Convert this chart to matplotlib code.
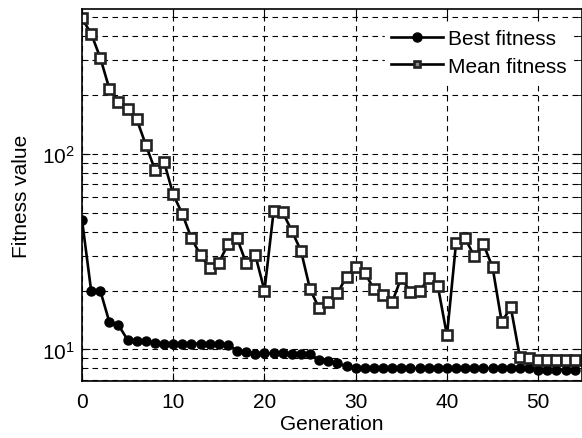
import matplotlib
matplotlib.use("Agg")
import matplotlib.pyplot as plt
import numpy as np
from matplotlib.ticker import LogLocator, NullFormatter, FixedLocator

plt.rcParams['font.family'] = ['Liberation Sans', 'DejaVu Sans']
plt.rcParams['mathtext.fontset'] = 'custom'
plt.rcParams['mathtext.rm'] = 'Liberation Sans'
plt.rcParams['mathtext.it'] = 'Liberation Sans:italic'

generation = list(range(55))

best_fitness = [46, 20, 20, 13.8, 13.3, 11.2, 11.1, 11.0, 10.8, 10.7,
                10.7, 10.7, 10.7, 10.7, 10.7, 10.7, 10.6, 9.85, 9.7, 9.5,
                9.55, 9.55, 9.55, 9.5, 9.5, 9.5, 8.8, 8.7, 8.5, 8.2,
                8.0, 8.0, 8.0, 8.0, 8.0, 8.0, 8.0, 8.0, 8.0, 8.0,
                8.0, 8.0, 8.0, 8.0, 8.0, 8.0, 8.0, 8.0, 8.0, 8.0,
                7.9, 7.9, 7.9, 7.9, 7.9]

mean_fitness = [492, 412, 310, 215, 185, 170, 150, 111, 82.8, 90.6,
                62, 49.2, 37, 30.3, 26, 27.8, 34.5, 37, 27.6, 30.3,
                20.0, 50.8, 50.2, 40.4, 31.9, 20.3, 16.2, 17.4, 19.4, 23.6,
                26.3, 24.7, 20.3, 19.0, 17.5, 23.3, 19.6, 19.9, 23.1, 21.1,
                11.8, 35.2, 37, 29.9, 34.5, 26.3, 13.8, 16.4, 9.1, 9.0,
                8.8, 8.8, 8.8, 8.8, 8.8]

fig = plt.figure(figsize=(5.82, 4.39), dpi=100)
ax = fig.add_axes([82/582, 57/439, 1.0 - 82/582, (382-10)/439])

ax.semilogy(generation, best_fitness, '-o', color='black', lw=1.9,
            ms=6.5, mfc='black', mec='black', label='Best fitness')
ax.semilogy(generation, mean_fitness, '-s', color='black', lw=1.9,
            ms=6.5, mfc='white', mec='#222222', mew=1.9, label='Mean fitness')

ax.set_xlim(0, 54.8)
ax.set_ylim(6.9, 550)
ax.set_xticks([0, 10, 20, 30, 40, 50])
ax.yaxis.set_major_locator(FixedLocator([10, 100]))
ax.yaxis.set_minor_locator(LogLocator(base=10, subs=np.arange(2, 10), numticks=20))
ax.yaxis.set_minor_formatter(NullFormatter())
ax.set_yticklabels([r'$10^1$', r'$10^2$'])

ax.grid(True, which='major', axis='both', color='black', linestyle=(0, (5, 4)), lw=0.8)
ax.grid(True, which='minor', axis='y', color='black', linestyle=(0, (5, 4)), lw=0.8)
ax.set_axisbelow(True)

ax.tick_params(which='both', direction='in', top=True, right=True, labelsize=15)
ax.tick_params(which='major', length=6)
ax.tick_params(which='minor', length=4)
ax.tick_params(axis='x', which='major', pad=8)
ax.tick_params(axis='y', which='major', pad=5)
for s in ax.spines.values():
    s.set_linewidth(1.2)

ax.set_xlabel('Generation', fontsize=15, labelpad=2)
ax.set_ylabel('Fitness value', fontsize=15, labelpad=8)

leg = ax.legend(loc='upper right', bbox_to_anchor=(1 - 9/500, 1 - 14/372),
                fontsize=15, frameon=True, fancybox=False,
                edgecolor='white', framealpha=1.0, handlelength=2.5,
                borderaxespad=0.0, handletextpad=0.25, labelspacing=0.4,
                borderpad=0.3)
leg.legend_handles[1].set_markersize(5)
leg.legend_handles[1].set_markerfacecolor('#888888')

fig.savefig('out.png', dpi=100)
